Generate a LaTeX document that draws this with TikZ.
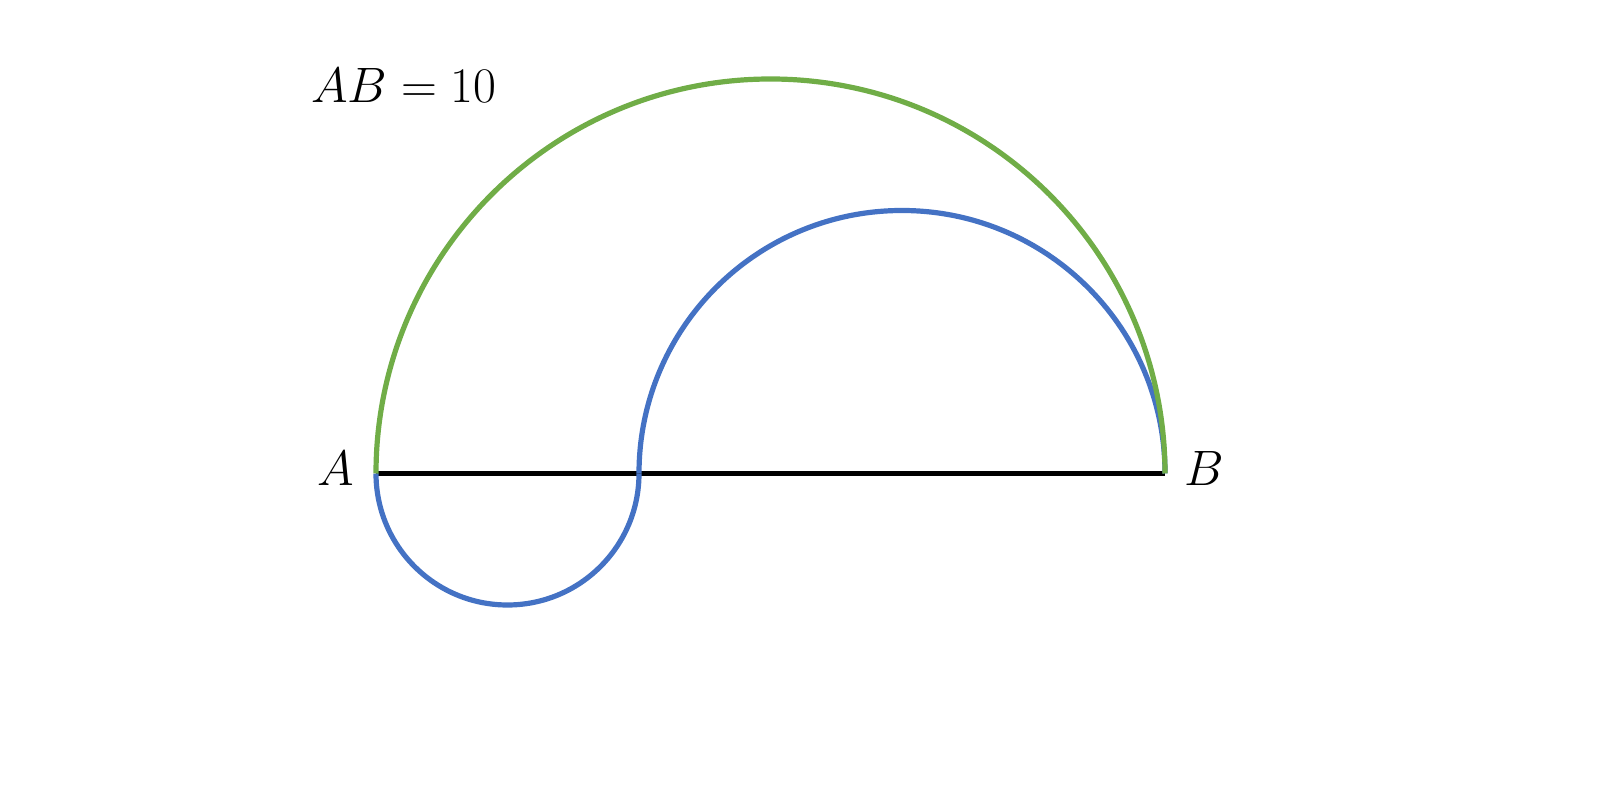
\documentclass[tikz,border=0pt]{standalone}
\definecolor{arcgreen}{HTML}{70AD47}
\definecolor{arcblue}{HTML}{4472C4}
\tikzset{
  seg/.style={line width=2.6pt, black},
  greenarc/.style={line width=2.6pt, arcgreen},
  bluearc/.style={line width=2.6pt, arcblue},
  lbl/.style={inner sep=0pt, font=\fontsize{23.5}{27}\selectfont},
}
\begin{document}
\begin{tikzpicture}[x=0.5pt, y=0.5pt]
\useasboundingbox (0,0) rectangle (1600,808);
\coordinate (A) at (376,334.5);
\coordinate (M) at (639,334.5);
\coordinate (B) at (1165,334.5);
\draw[seg] (A) -- (B);
\draw[bluearc] (A) arc[start angle=180, end angle=360, radius=131.5];
\draw[bluearc] (M) arc[start angle=180, end angle=0, radius=263];
\draw[greenarc] (A) arc[start angle=180, end angle=0, radius=394.5];
\node[lbl] (la) at (336,339) {$A$};
\node[lbl] (lb) at (1204,339) {$B$};
\node[lbl, anchor=base west] (title) at (311,705) {$AB=10$};
\end{tikzpicture}
\end{document}
